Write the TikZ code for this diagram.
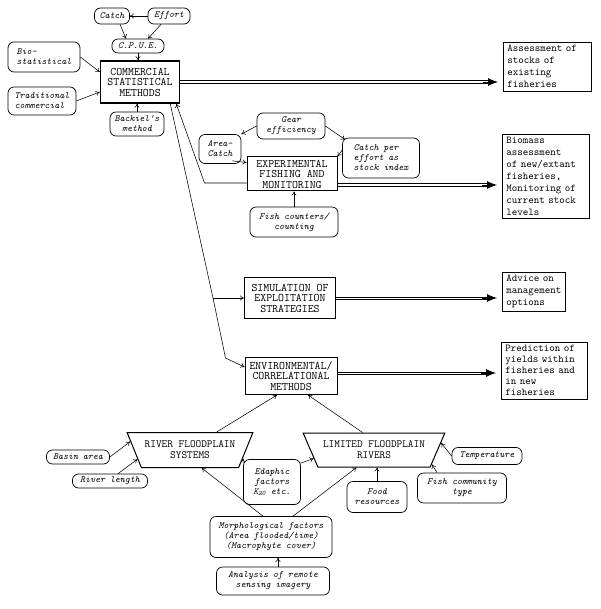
\documentclass[tikz,border=0pt]{standalone}
\usepackage{fontspec}
\usetikzlibrary{arrows.meta,shapes.geometric}
\begin{document}
\begin{tikzpicture}[x=1pt,y=-1pt,
  oval/.style={draw, rounded corners=6pt, line width=0.7pt, font=\fontsize{9.5}{10}\selectfont\ttfamily\itshape, align=center, inner sep=1pt},
  mbox/.style={draw, line width=1pt, font=\fontsize{11.5}{10.5}\selectfont\ttfamily, align=center, inner sep=1pt},
  obox/.style={draw, line width=0.7pt, font=\fontsize{10.5}{12}\selectfont\ttfamily, align=left, anchor=north west, inner xsep=4pt, inner ysep=3pt},
  trap/.style={draw, line width=1pt, trapezium, shape border rotate=180, trapezium stretches=true, font=\fontsize{11}{11}\selectfont\ttfamily, align=center},
  arr/.style={-{To[length=4pt,width=5pt]}, line width=0.55pt},
  rail/.style={line width=0.8pt, shorten >=12pt},
  bigtip/.style={-{Latex[length=10pt,width=8pt]}, line width=0.8pt, shorten >=5pt},
]
\useasboundingbox (0,0) rectangle (600,609);

% top cluster
\node[oval, minimum width=35, minimum height=16] (catch) at (112,16) {Catch};
\node[oval, minimum width=42, minimum height=16] (effort) at (169,16) {Effort};
\node[oval, minimum width=52, minimum height=14] (cpue) at (138,46) {C.P.U.E.};
\node[mbox, line width=1.5pt, minimum width=79, minimum height=42] (csm) at (140,82) {COMMERCIAL\\STATISTICAL\\METHODS};
\node[oval, align=left, minimum width=72, minimum height=30] (bio) at (44,57) {Bio-\\statistical};
\node[oval, align=left, minimum width=68, minimum height=28] (trad) at (42,101) {Traditional\\commercial};
\node[oval, minimum width=54, minimum height=24] (back) at (137,124) {Backiel's\\method};

% experimental cluster
\node[oval, minimum width=68, minimum height=26] (gear) at (291,126) {Gear\\efficiency};
\node[oval, align=left, minimum width=42, minimum height=29] (area) at (220,149) {Area-\\Catch};
\node[mbox, minimum width=90, minimum height=34] (exp) at (292,174) {EXPERIMENTAL\\FISHING AND\\MONITORING};
\node[oval, align=left, minimum width=77, minimum height=40] (cpe) at (381,158) {Catch per\\effort as\\stock index};
\node[oval, minimum width=88, minimum height=30] (fish) at (294,222) {Fish counters/\\counting};

% simulation, environmental
\node[mbox, minimum width=91, minimum height=41] (sim) at (290,298) {SIMULATION OF\\EXPLOITATION\\STRATEGIES};
\node[mbox, minimum width=92, minimum height=37] (env) at (291,376) {ENVIRONMENTAL/\\CORRELATIONAL\\METHODS};

% output boxes
\node[obox, text width=80] (o1) at (503,42) {Assessment of\\stocks of\\existing\\fisheries};
\node[obox, text width=79] (o2) at (502,134) {Biomass\\assessment\\of new/extant\\fisheries,\\Monitoring of\\current stock\\levels};
\node[obox, text width=55] (o3) at (502,272) {Advice on\\management\\options};
\node[obox, text width=78, font=\fontsize{10.5}{11}\selectfont\ttfamily] (o4) at (501,342) {Prediction of\\yields within\\fisheries and\\in new\\fisheries};

% river types
\node[trap, minimum width=125, minimum height=35] (rfs) at (190,450) {RIVER FLOODPLAIN\\SYSTEMS};
\node[trap, minimum width=142, minimum height=34] (lfr) at (374,450) {LIMITED FLOODPLAIN\\RIVERS};

% bottom factors
\node[oval, minimum width=63, minimum height=14] (basin) at (78,457) {Basin area};
\node[oval, minimum width=75, minimum height=14] (rlen) at (110,481) {River length};
\node[oval, minimum width=57, minimum height=45] (edaph) at (272,482) {Edaphic\\factors\\K\textsubscript{20} etc.};
\node[oval, minimum width=122, minimum height=41] (morph) at (271,537) {Morphological factors\\(Area flooded/time)\\(Macrophyte cover)};
\node[oval, minimum width=113, minimum height=28] (anal) at (273,581) {Analysis of remote\\sensing imagery};
\node[oval, minimum width=60, minimum height=31] (food) at (377,497) {Food\\resources};
\node[oval, minimum width=89, minimum height=30] (fishc) at (462,488) {Fish community\\type};
\node[oval, minimum width=70, minimum height=17] (temp) at (487,456) {Temperature};

% connectors, top
\draw[arr] (effort.west) -- (catch.east);
\draw[arr] ([xshift=8pt]catch.south) -- ([xshift=-12pt]cpue.north);
\draw[arr] ([xshift=-8pt]effort.south) -- ([xshift=10pt]cpue.north);
\draw[arr] (cpue.south) -- (cpue.south |- csm.north);
\draw[arr] (bio.east) -- ([yshift=10pt]csm.west);
\draw[arr] (trad.east) -- ([yshift=-10pt]csm.west);
\draw[arr] (back.north) -- (back.north |- csm.south);

% experimental connectors
\draw[arr] (gear.west) -- (area.north east);
\draw[arr] (gear.east) -- ([xshift=3pt,yshift=-2pt]cpe.north west);
\draw[arr] ([xshift=-9pt,yshift=3pt]area.south east) -- ([yshift=-6pt]exp.north west);
\draw[arr] ([yshift=8pt]cpe.west) -- (exp.north east);
\draw[arr] (fish.north) -- (fish.north |- exp.south);
\draw[arr] ([yshift=-9pt]exp.west) -- ++(-42,0) -- ([xshift=-4pt]csm.south east);

% CSM to simulation and environmental
\coordinate (c1) at ([xshift=-10pt]csm.south east);
\coordinate (j1) at ([xshift=-31pt]sim.west);
\coordinate (j2) at ([xshift=-19pt,yshift=18pt]env.west);
\draw[arr] (c1) -- (j1) -- (j2) -- ([yshift=9pt]env.west);
\draw[arr] (j1) -- (sim.west);

% double arrows to outputs
\coordinate (e1) at (csm.east);
\coordinate (e2) at ([yshift=-11pt]exp.east);
\coordinate (e3) at (sim.east);
\coordinate (e4) at ([yshift=3pt]env.east);
\foreach \e/\o in {e1/o1, e2/o2, e3/o3, e4/o4}{
  \draw[rail] ([yshift=1.1pt]\e) -- ([yshift=1.1pt]\e -| \o.west);
  \draw[rail] ([yshift=-1.1pt]\e) -- ([yshift=-1.1pt]\e -| \o.west);
  \draw[bigtip] ([xshift=-20pt]\e -| \o.west) -- (\e -| \o.west);
}

% river types to environmental
\draw[arr] (rfs.34) -- ([xshift=-14pt]env.south);
\draw[arr] (lfr.123) -- ([xshift=17pt]env.south);

% bottom factors
\draw[arr] (basin.east) -- (rfs.172);
\draw[arr] ([xshift=8pt]rlen.north) -- (rfs.190);
\draw[arr] ([yshift=-4pt]edaph.north west) -- (rfs.351);
\draw[arr] ([yshift=-4pt]edaph.north east) -- (lfr.188);
\draw[arr] ([xshift=-8pt]morph.north) -- (rfs.303);
\draw[arr] ([xshift=22pt]morph.north) -- (lfr.225);
\draw[arr] ([xshift=5pt]anal.north) -- ([xshift=5pt]anal.north |- morph.south);
\draw[arr] (food.north) -- (food.north |- lfr.south);
\draw[arr] ([xshift=-25pt]fishc.north) -- (lfr.346);
\draw[arr] (temp.west) -- (lfr.6);
\end{tikzpicture}
\end{document}
